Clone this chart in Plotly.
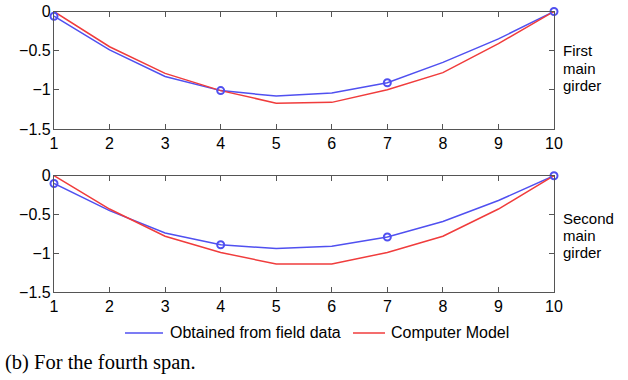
import plotly.graph_objects as go

x = [1, 2, 3, 4, 5, 6, 7, 8, 9, 10]
marker_x = [1, 4, 7, 10]

first_field = [-0.06, -0.49, -0.83, -1.01, -1.08, -1.04, -0.91, -0.65, -0.35, 0.0]
first_model = [0.0, -0.45, -0.79, -1.01, -1.17, -1.16, -1.00, -0.78, -0.41, 0.0]
second_field = [-0.10, -0.45, -0.74, -0.89, -0.94, -0.91, -0.79, -0.59, -0.32, 0.0]
second_model = [0.0, -0.43, -0.78, -0.99, -1.14, -1.14, -0.99, -0.78, -0.43, 0.0]

x_ticks = [1, 2, 3, 4, 5, 6, 7, 8, 9, 10]
y_ticks = [0, -0.5, -1, -1.5]
y_ticktext = ["0", "\u22120.5", "\u22121", "\u22121.5"]

series_names = ["Obtained from field data", "Computer Model"]
panel_labels = [["First", "main", "girder"], ["Second", "main", "girder"]]
caption = "(b) For the fourth span."

blue = "rgb(80,80,240)"
red = "rgb(240,60,60)"
axis_col = "#555555"
sans = "Liberation Sans, Arial, sans-serif"

W, H = 628, 380
def px(v):
    return v / W
def py(v):
    return 1 - v / H

fig = go.Figure()

def add_panel(field, model, xa, ya):
    fig.add_trace(go.Scatter(x=x, y=field, mode="lines", line=dict(color=blue, width=1.5),
                             name=series_names[0], showlegend=False, xaxis=xa, yaxis=ya))
    fig.add_trace(go.Scatter(x=x, y=model, mode="lines", line=dict(color=red, width=1.5),
                             name=series_names[1], showlegend=False, xaxis=xa, yaxis=ya))
    mv = [field[x.index(m)] for m in marker_x]
    fig.add_trace(go.Scatter(x=marker_x, y=mv, mode="markers",
                             marker=dict(symbol="circle-open", size=7, color=blue, line=dict(width=2)),
                             showlegend=False, xaxis=xa, yaxis=ya, cliponaxis=False))

add_panel(first_field, first_model, "x", "y")
add_panel(second_field, second_model, "x2", "y2")

xd = [px(54), px(554)]
font = dict(family=sans, size=16, color="black")
common_x = dict(domain=xd, range=[1, 10], tickvals=x_ticks, ticks="inside", ticklen=5,
                tickcolor=axis_col, showline=True, linecolor=axis_col, linewidth=1.2,
                mirror="ticks", showgrid=False, zeroline=False, tickfont=font, automargin=False,
                ticklabelstandoff=0)
common_y = dict(range=[-1.5, 0], tickvals=y_ticks, ticktext=y_ticktext, ticks="inside", ticklen=5,
                tickcolor=axis_col, showline=True, linecolor=axis_col, linewidth=1.2,
                mirror="ticks", showgrid=False, zeroline=False, tickfont=font, automargin=False,
                ticklabelstandoff=-1)

annotations = []
shapes = []
# side labels, one line each for tight spacing
for labels, ys in zip(panel_labels, [[50.5, 68, 85.5], [218, 235.5, 253]]):
    for t, yy in zip(labels, ys):
        annotations.append(dict(text=t, x=px(562), y=py(yy), xref="paper", yref="paper",
                                xanchor="left", yanchor="middle", showarrow=False, borderpad=0,
                                font=dict(family=sans, size=15, color="black")))
# manual legend
legend_items = [(series_names[0], blue, 125, 163, 168), (series_names[1], red, 353, 385, 389)]
for name, col, x0, x1, tx in legend_items:
    shapes.append(dict(type="line", xref="paper", yref="paper", x0=px(x0), x1=px(x1),
                       y0=py(333), y1=py(333), line=dict(color=col, width=1.5)))
    annotations.append(dict(text=name, x=px(tx), y=py(332), xref="paper", yref="paper",
                            xanchor="left", yanchor="middle", showarrow=False,
                            font=dict(family=sans, size=16, color="black")))
annotations.append(dict(text=caption, x=px(3), y=py(362), xref="paper", yref="paper",
                        xanchor="left", yanchor="middle", showarrow=False,
                        font=dict(family="Liberation Serif, Times New Roman, serif", size=20.5, color="black")))

fig.update_layout(
    width=W, height=H,
    margin=dict(l=0, r=0, t=0, b=0, autoexpand=False),
    paper_bgcolor="white", plot_bgcolor="white",
    showlegend=False,
    xaxis=dict(common_x, anchor="y"),
    yaxis=dict(common_y, domain=[py(129), py(11.5)], anchor="x"),
    xaxis2=dict(common_x, anchor="y2"),
    yaxis2=dict(common_y, domain=[py(292), py(175.7)], anchor="x2"),
    annotations=annotations,
    shapes=shapes,
)

fig.write_html("out.html")
